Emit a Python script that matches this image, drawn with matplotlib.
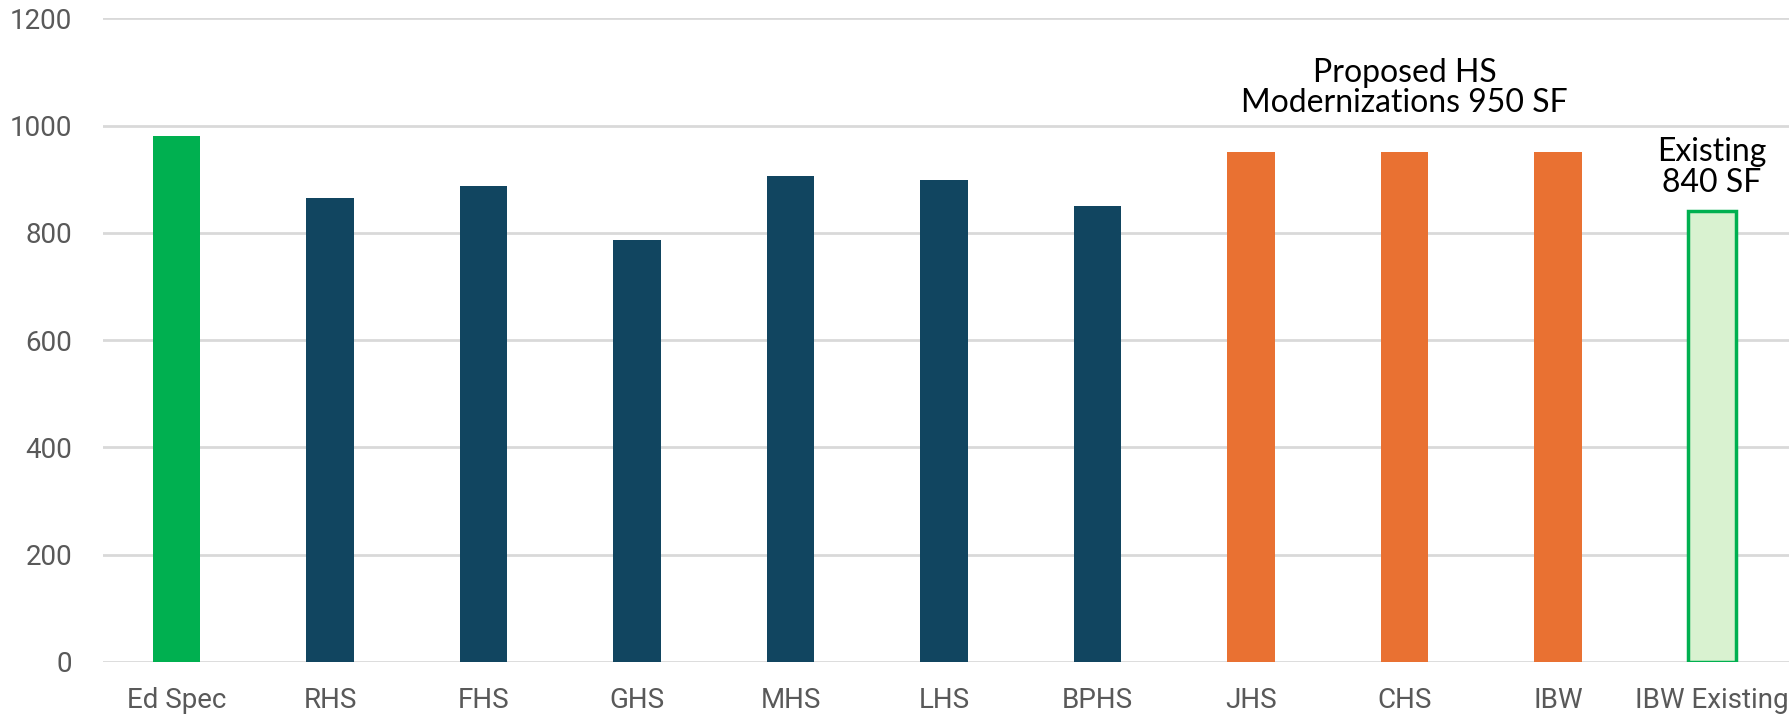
import matplotlib.pyplot as plt
import numpy as np

# classroom sizes (SF)
schools = ["Ed Spec", "RHS", "FHS", "GHS", "MHS", "LHS", "BPHS", "JHS", "CHS", "IBW", "IBW Existing"]
sizes = [980, 865, 887, 786, 906, 899, 850, 950, 950, 950, 840]
groups = ["spec", "hs", "hs", "hs", "hs", "hs", "hs", "prop", "prop", "prop", "exist"]
yticks = [0, 200, 400, 600, 800, 1000, 1200]

fill = {"spec": "#00B050", "hs": "#114560", "prop": "#E97132", "exist": "#D9F2D0"}
edge = {"spec": "#00B050", "hs": "#114560", "prop": "#E97132", "exist": "#00B050"}

fig = plt.figure(figsize=(17.9, 7.18), dpi=100)
ax = fig.add_axes([0.0575, 0.078, 0.9425, 0.8965])

x = np.arange(len(schools))
for i in range(len(schools)):
    g = groups[i]
    ax.bar(x[i], sizes[i], width=0.31, color=fill[g], edgecolor=edge[g],
           linewidth=2.5 if g == "exist" else 0, zorder=3)

ax.set_ylim(0, 1200)
ax.set_xlim(-0.48, len(schools) - 0.49)
ax.set_yticks(yticks)
ax.set_xticks(x)
ax.set_xticklabels(schools)
ax.yaxis.grid(True, color="#D9D9D9", linewidth=2, zorder=0)
ax.set_axisbelow(True)
for s in ax.spines.values():
    s.set_visible(False)
ax.tick_params(axis="both", length=0, colors="#595959", labelsize=20)
ax.tick_params(axis="y", pad=22)
ax.tick_params(axis="x", pad=18)
for lab in ax.get_xticklabels() + ax.get_yticklabels():
    lab.set_family(["Roboto", "DejaVu Sans"])

ax.text(8, 1070, "Proposed HS\nModernizations 950 SF", ha="center", va="center",
        fontsize=23, family="Lato", color="black", linespacing=1.02)
ax.text(10, 922, "Existing\n840 SF", ha="center", va="center",
        fontsize=23, family="Lato", color="black", linespacing=1.02)

fig.savefig("out.png", dpi=100, facecolor="white")
